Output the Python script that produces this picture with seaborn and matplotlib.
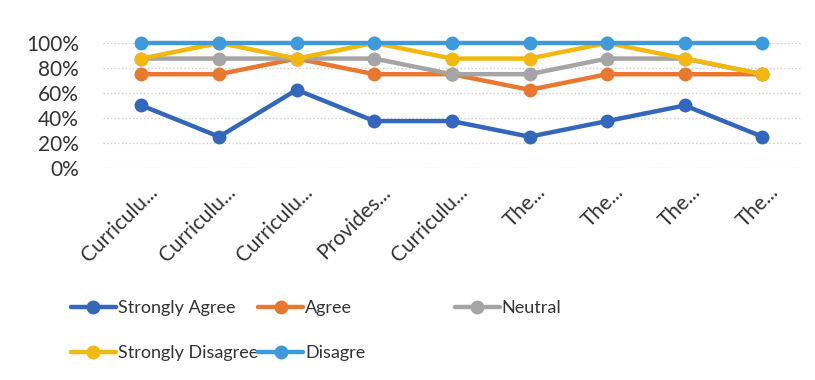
import pandas as pd
import seaborn as sns
import matplotlib.pyplot as plt
import matplotlib.transforms as mtransforms
from matplotlib.lines import Line2D
from matplotlib.ticker import PercentFormatter

# item labels as shown (truncated in the original chart)
labels = ['Curriculu...', 'Curriculu...', 'Curriculu...', 'Provides...', 'Curriculu...',
          'The...', 'The...', 'The...', 'The...']

# cumulative (stacked) share, in %
strongly_agree = [50, 25, 62.5, 37.5, 37.5, 25, 37.5, 50, 25]
agree = [75, 75, 87.5, 75, 75, 62.5, 75, 75, 75]
neutral = [87.5, 87.5, 87.5, 87.5, 75, 75, 87.5, 87.5, 75]
strongly_disagree = [87.5, 100, 87.5, 100, 87.5, 87.5, 100, 87.5, 75]
disagre = [100, 100, 100, 100, 100, 100, 100, 100, 100]

series = ['Strongly Agree', 'Agree', 'Neutral', 'Strongly Disagree', 'Disagre']
colors = ['#3467B9', '#E8782F', '#A5A5A5', '#F2B80F', '#3F9ADB']

rows = []
for name, vals in zip(series, [strongly_agree, agree, neutral, strongly_disagree, disagre]):
    for i, v in enumerate(vals):
        rows.append({'item': i, 'pct': v, 'series': name})
df = pd.DataFrame(rows)

sns.set_style('white')
plt.rcParams['font.family'] = ['Lato', 'DejaVu Sans']

fig = plt.figure(figsize=(8.15, 3.8), dpi=100)
ax = fig.add_axes([0.126, 0.558, 0.857, 0.329])

sns.lineplot(data=df, x='item', y='pct', hue='series', hue_order=series,
             palette=colors, marker='o', markersize=10, markeredgewidth=0,
             linewidth=3.2, legend=False, ax=ax, clip_on=False)

ax.set_xlim(-0.5, len(labels) - 0.5)
ax.set_ylim(0, 100)
ax.set_yticks([0, 20, 40, 60, 80, 100])
ax.yaxis.set_major_formatter(PercentFormatter(decimals=0))
ax.set_xticks(range(len(labels)))
ax.set_xticklabels(labels, rotation=45, ha='right', rotation_mode='anchor')
ax.tick_params(axis='x', length=0, labelsize=15, colors='#333333', pad=10)
ax.tick_params(axis='y', length=0, labelsize=15, colors='#333333', pad=17)
# nudge the slanted labels a little to the right, as in the original
shift = mtransforms.ScaledTranslation(6 / 100, 0, fig.dpi_scale_trans)
for t in ax.get_xticklabels():
    t.set_transform(t.get_transform() + shift)
ax.set_xlabel('')
ax.set_ylabel('')
ax.grid(axis='y', color='#D0D0D0', linestyle=':', linewidth=1)
for s in ax.spines.values():
    s.set_visible(False)

def handle(c):
    return Line2D([], [], color=c, linewidth=3.2, marker='o', markersize=10, markeredgewidth=0)

h = [handle(c) for c in colors]
leg_kw = dict(frameon=False, fontsize=13, handlelength=2.5, handletextpad=0.1,
              labelcolor='#333333', labelspacing=1.6)
fig.legend([h[0], h[3], h[1], h[4]],
           ['Strongly Agree', 'Strongly Disagree', 'Agree', 'Disagre'],
           ncol=2, columnspacing=0.0, loc='upper left',
           bbox_to_anchor=(0.067, 0.253), **leg_kw)
fig.legend([h[2]], ['Neutral'], loc='upper left',
           bbox_to_anchor=(0.538, 0.253), **leg_kw)

plt.savefig('out.png', dpi=100)
